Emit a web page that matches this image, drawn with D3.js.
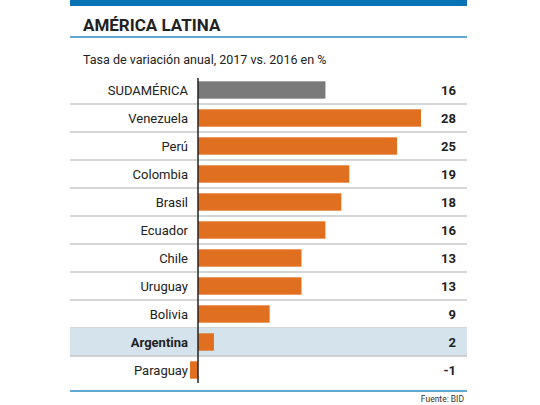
<!DOCTYPE html>
<html><head><meta charset="utf-8">
<script src="https://cdn.jsdelivr.net/npm/d3@7"></script>
<style>body{margin:0;background:#fff}text{font-family:"Liberation Sans Narrow","Roboto",sans-serif}</style>
</head><body>
<script>
"use strict";
const countries = ["SUDAMÉRICA","Venezuela","Perú","Colombia","Brasil","Ecuador","Chile","Uruguay","Bolivia","Argentina","Paraguay"];
const values = [16,28,25,19,18,16,13,13,9,2,-1];

const W = 540, H = 405, left = 70, right = 467;
const svg = d3.select("body").append("svg").attr("width", W).attr("height", H);

const x = d3.scaleLinear().domain([0, 28]).range([198, 421]);
const y = d3.scaleBand().domain(countries).range([76, 384]).paddingInner(0.38).paddingOuter(0.19);
const step = y.step();

svg.append("rect").attr("x", left).attr("y", 0).attr("width", right - left).attr("height", 6).attr("fill", "#0a73b5");
svg.append("text").attr("x", 83).attr("y", 31).attr("font-size", 17).attr("font-weight", "bold").attr("fill", "#222").text("AMÉRICA LATINA");
svg.append("line").attr("x1", left).attr("x2", right).attr("y1", 37).attr("y2", 37).attr("stroke", "#2a8ac2").attr("stroke-width", 1.5);
svg.append("text").attr("x", 83).attr("y", 64).attr("font-size", 12.5).attr("fill", "#222").text("Tasa de variación anual, 2017 vs. 2016 en %");

const row = svg.append("g").selectAll("g").data(countries).join("g");
row.filter((d) => d === "Argentina").append("rect")
  .attr("x", left).attr("width", right - left)
  .attr("y", (d) => y(d) + y.bandwidth() / 2 - step / 2).attr("height", step)
  .attr("fill", "#d5e3ed");
row.filter((d, i) => i < countries.length - 1).append("line")
  .attr("x1", left).attr("x2", right)
  .attr("y1", (d) => y(d) + y.bandwidth() / 2 + step / 2).attr("y2", (d) => y(d) + y.bandwidth() / 2 + step / 2)
  .attr("stroke", "#c8c8c8").attr("stroke-width", 1.5);

row.append("rect")
  .attr("x", (d, i) => x(Math.min(0, values[i])))
  .attr("width", (d, i) => Math.abs(x(values[i]) - x(0)))
  .attr("y", (d) => y(d)).attr("height", y.bandwidth())
  .attr("fill", (d, i) => i === 0 ? "#7a7a7a" : "#e06f1f");

row.append("text").attr("x", 188).attr("y", (d) => y(d) + y.bandwidth() / 2).attr("dy", "0.36em")
  .attr("text-anchor", "end").attr("font-size", 13).attr("fill", "#222")
  .attr("font-weight", (d) => d === "Argentina" ? "bold" : "normal").text((d) => d);
row.append("text").attr("x", 456).attr("y", (d) => y(d) + y.bandwidth() / 2).attr("dy", "0.36em")
  .attr("text-anchor", "end").attr("font-size", 13).attr("font-weight", "bold").attr("fill", "#222")
  .text((d, i) => values[i]);

svg.append("line").attr("x1", x(0)).attr("x2", x(0)).attr("y1", 78).attr("y2", 383).attr("stroke", "#222").attr("stroke-width", 1.5);
svg.append("line").attr("x1", left).attr("x2", right).attr("y1", 391).attr("y2", 391).attr("stroke", "#2a8ac2").attr("stroke-width", 1.5);
svg.append("text").attr("x", 464).attr("y", 402).attr("text-anchor", "end").attr("font-size", 8.5).attr("fill", "#333").text("Fuente: BID");
</script>
</body></html>
